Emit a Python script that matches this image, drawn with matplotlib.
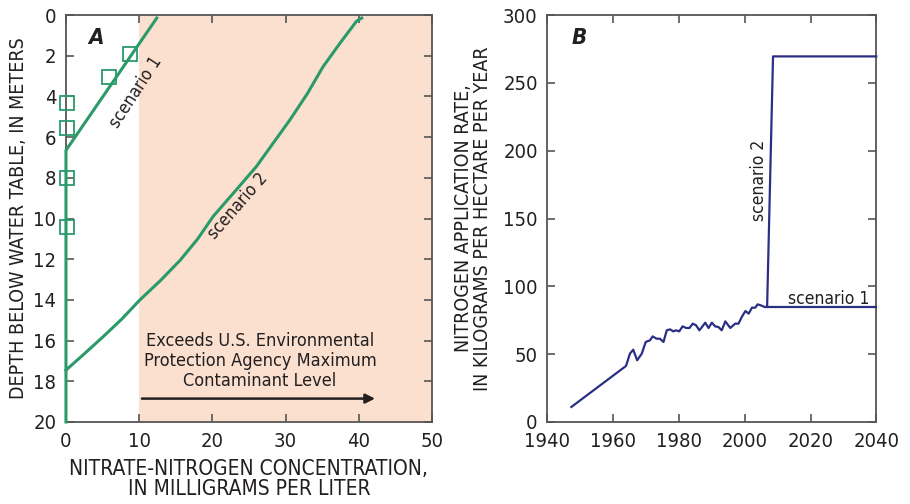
import matplotlib.pyplot as plt
import numpy as np

plt.rcParams['font.family'] = ['Liberation Sans Narrow', 'DejaVu Sans']
plt.rcParams['font.stretch'] = 'condensed'

# panel A - depth profiles
obs_conc = [8.8, 5.9, 0.1, 0.1, 0.1, 0.1]
obs_depth = [1.9, 3.05, 4.3, 5.55, 8.0, 10.4]
s1_conc = [0, 0, 12.4]
s1_depth = [20, 6.65, 0.15]
s2_conc = [0, 2.5, 5.1, 7.6, 10.1, 12.9, 15.6, 18.0, 20.1, 23.0, 26.0, 28.3, 30.6, 33.0, 35.1, 37.4, 39.7, 40.4]
s2_depth = [17.45, 16.65, 15.8, 14.95, 14.0, 13.05, 12.05, 11.0, 9.9, 8.7, 7.45, 6.3, 5.15, 3.85, 2.55, 1.4, 0.3, 0.15]
mcl = 10

# panel B - application rate
years = [1947.3, 1963.9, 1965.1, 1966.1, 1967.3, 1968.7, 1969.9, 1971.2, 1972.0, 1973.2,
         1974.2, 1975.3, 1976.3, 1977.3, 1978.3, 1979.1, 1980.1, 1981.1, 1982.2, 1983.2,
         1984.2, 1985.2, 1986.2, 1987.0, 1988.0, 1989.0, 1990.0, 1991.0, 1992.0, 1993.0,
         1994.1, 1995.6, 1997.1, 1998.1, 1999.1, 2000.2, 2001.2, 2002.2, 2003.2, 2003.9,
         2004.9, 2006.0, 2006.8]
rate = [11.1, 41.3, 50.4, 53.3, 45.5, 50.4, 59.0, 60.2, 63.1, 61.4,
        61.4, 59.0, 67.6, 68.3, 66.8, 67.6, 66.8, 70.5, 69.3, 69.3,
        72.5, 71.3, 67.6, 70.0, 73.2, 69.3, 73.2, 70.5, 70.0, 67.6,
        74.2, 69.3, 72.5, 72.5, 77.4, 81.8, 79.9, 84.3, 84.3, 86.7,
        86.0, 84.8, 84.8]
s1_years = [2006.8, 2040]
s1_rate = [85.0, 85.0]
s2_years = [2006.8, 2008.6, 2040]
s2_rate = [85.0, 269.5, 269.5]

green = '#2a9a6a'
navy = '#2b2f84'
spine = '#555555'
txt = '#231f20'

fig = plt.figure(figsize=(9.1, 5.04), dpi=100)
axA = fig.add_axes([0.0725, 0.1627, 0.4022, 0.8075])
axB = fig.add_axes([0.6015, 0.1627, 0.3615, 0.8075])

axA.axvspan(mcl, 50, color='#fbe0cf', lw=0, zorder=0)
axA.plot(s1_conc, s1_depth, color=green, lw=2.2, zorder=3, clip_on=False)
axA.plot(s2_conc, s2_depth, color=green, lw=2.2, zorder=3, clip_on=False)
axA.plot(obs_conc, obs_depth, ls='none', marker='s', ms=10, mfc='none',
         mec=green, mew=1.3, zorder=4, clip_on=False)
axA.annotate('', xy=(42.6, 18.85), xytext=(mcl, 18.85),
             arrowprops=dict(arrowstyle='-|>', color=txt, lw=1.8, mutation_scale=14))
axA.text(26.5, 17.0, 'Exceeds U.S. Environmental\nProtection Agency Maximum\nContaminant Level',
         ha='center', va='center', fontsize=13, color=txt, linespacing=1.15)
axA.text(4.1, 1.15, 'A', fontsize=16, fontweight='bold', style='italic', color=txt,
         ha='center', va='center')
axA.text(9.5, 3.8, 'scenario 1', rotation=57, fontsize=12.5, color=txt,
         ha='center', va='center', rotation_mode='anchor')
axA.text(23.5, 9.4, 'scenario 2', rotation=49, fontsize=12.5, color=txt,
         ha='center', va='center', rotation_mode='anchor')
axA.set_xlim(0, 50)
axA.set_ylim(20, 0)
axA.set_xticks([0, 10, 20, 30, 40, 50])
axA.set_yticks(np.arange(0, 21, 2))
axA.set_xlabel('NITRATE-NITROGEN CONCENTRATION,\nIN MILLIGRAMS PER LITER', fontsize=15,
               color=txt, linespacing=1.0, labelpad=6)
axA.set_ylabel('DEPTH BELOW WATER TABLE, IN METERS', fontsize=14, color=txt, labelpad=4)

axB.plot(years, rate, color=navy, lw=1.6, zorder=3)
axB.plot(s1_years, s1_rate, color=navy, lw=1.6, zorder=3, clip_on=False)
axB.plot(s2_years, s2_rate, color=navy, lw=1.6, zorder=3, clip_on=False)
axB.text(1949.8, 283, 'B', fontsize=16, fontweight='bold', style='italic', color=txt,
         ha='center', va='center')
axB.text(2004.4, 178, 'scenario 2', rotation=90, fontsize=12.5, color=txt,
         ha='center', va='center')
axB.text(2025.5, 91, 'scenario 1', fontsize=12.5, color=txt, ha='center', va='center')
axB.set_xlim(1940, 2040)
axB.set_ylim(0, 300)
axB.set_xticks(np.arange(1940, 2041, 20))
axB.set_yticks(np.arange(0, 301, 50))
axB.set_ylabel('NITROGEN APPLICATION RATE,\nIN KILOGRAMS PER HECTARE PER YEAR', fontsize=14,
               color=txt, linespacing=1.0, labelpad=8)

for ax in (axA, axB):
    for s in ax.spines.values():
        s.set_color(spine)
        s.set_linewidth(1.3)
    ax.tick_params(direction='in', length=6, width=1.2, color=spine, labelsize=14.5,
                   labelcolor=txt, top=True, right=True, pad=7)

fig.savefig('out.png', dpi=100)
